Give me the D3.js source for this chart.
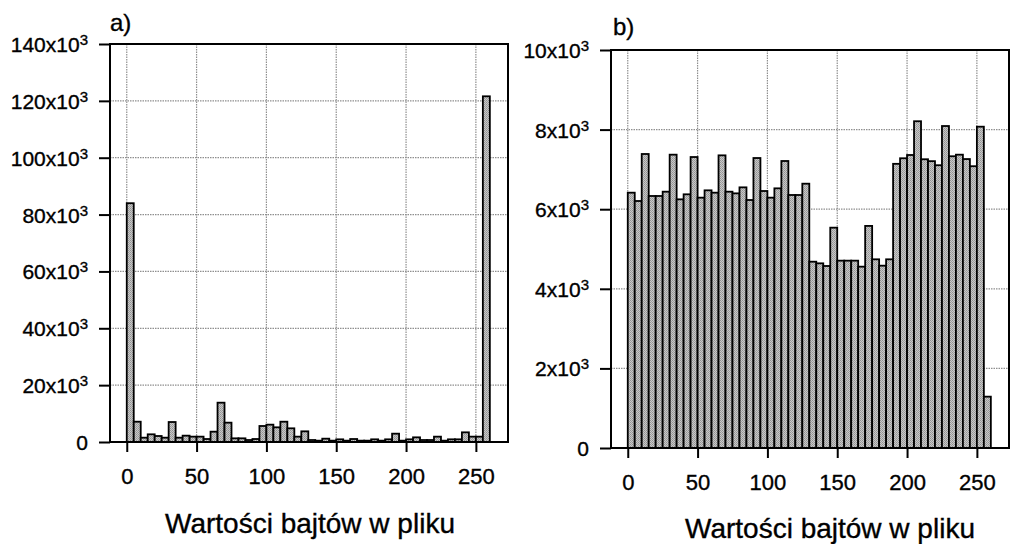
<!DOCTYPE html>
<html>
<head>
<meta charset="utf-8">
<script src="https://cdn.jsdelivr.net/npm/d3@7"></script>
<style>
  body { margin: 0; background: #fff; }
  svg { display: block; font-family: "Liberation Sans", Arial, sans-serif; }
  svg text { stroke: #000; stroke-width: 0.35px; }
</style>
</head>
<body>
<div id="chart"></div>
<script>
// histogram bins: 0..260 step 5
const binWidth = 5;
const binStarts = d3.range(0, 260, binWidth);

// a) counts per bin
const countsA = [
  84000, 7140, 1520, 2700, 2110, 1520, 7030, 1520, 2230, 1880,
  1880, 1050, 3630, 13830, 6800, 1290, 1290, 700, 1050, 5630,
  6100, 5160, 7140, 4810, 1880, 3750, 700, 470, 1170, 470,
  940, 470, 1050, 470, 470, 940, 470, 940, 2930, 470,
  940, 1640, 700, 700, 1880, 470, 940, 940, 3400, 1880,
  1880, 121600
];

// b) counts per bin
const countsB = [
  6415, 6206, 7387, 6332, 6332, 6440, 7370, 6248, 6374, 7311,
  6290, 6474, 6415, 7353, 6440, 6398, 6549, 6231, 7286, 6457,
  6290, 6524, 7211, 6357, 6357, 6641, 4681, 4640, 4573, 5536,
  4707, 4707, 4707, 4556, 5580, 4741, 4581, 4741, 7140, 7280,
  7362, 8210, 7255, 7207, 7105, 8090, 7330, 7370, 7260, 7080,
  8073, 1290
];

const xTicks = [0, 50, 100, 150, 200, 250];
const yTicksA = [0, 20000, 40000, 60000, 80000, 100000, 120000, 140000];
const yTicksB = [0, 2000, 4000, 6000, 8000, 10000];
const xTitle = "Wartości bajtów w pliku";

const svg = d3.select("#chart")
  .append("svg")
  .attr("width", 1010)
  .attr("height", 544);

// stippled grey fill of the bars
const pat = svg.append("defs").append("pattern")
  .attr("id", "stipple")
  .attr("width", 2).attr("height", 2)
  .attr("patternUnits", "userSpaceOnUse");
pat.append("rect").attr("width", 2).attr("height", 2).attr("fill", "#c8c8c8");
pat.append("rect").attr("x", 0).attr("y", 0).attr("width", 1).attr("height", 1).attr("fill", "#939393");
pat.append("rect").attr("x", 1).attr("y", 1).attr("width", 1).attr("height", 1).attr("fill", "#a0a0a0");

function yLabel(sel, d) {
  // "NNx10³" style labels, 0 stays plain
  sel.text(null);
  if (d === 0) { sel.text("0"); return; }
  sel.append("tspan").text(`${d / 1000}x10`);
  sel.append("tspan").attr("dy", -7).attr("font-size", 15).text("3");
}

function drawPanel(p) {
  const x = d3.scaleLinear().domain([-12, 273]).range([p.left, p.left + p.size]);
  const y = d3.scaleLinear().domain([0, p.yMax]).range([p.top + p.size, p.top]);
  const bottom = p.top + p.size;
  const right = p.left + p.size;
  const data = binStarts.map((s, i) => ({ x0: s, x1: s + binWidth, v: p.counts[i] }));

  const g = svg.append("g");

  // dotted grid
  g.append("g").selectAll("line.gx")
    .data(xTicks)
    .join("line")
    .attr("x1", d => x(d)).attr("x2", d => x(d))
    .attr("y1", p.top).attr("y2", bottom)
    .attr("stroke", "#8f8f8f").attr("stroke-width", 1.2)
    .attr("stroke-dasharray", "1.5,1");

  g.append("g").selectAll("line.gy")
    .data(p.yTicks.filter(d => d > 0 && d < p.yMax))
    .join("line")
    .attr("x1", p.left).attr("x2", right)
    .attr("y1", d => y(d)).attr("y2", d => y(d))
    .attr("stroke", "#8f8f8f").attr("stroke-width", 1.2)
    .attr("stroke-dasharray", "1.5,1");

  // bars
  g.append("g").selectAll("rect")
    .data(data)
    .join("rect")
    .attr("x", d => x(d.x0))
    .attr("y", d => y(d.v))
    .attr("width", d => x(d.x1) - x(d.x0))
    .attr("height", d => bottom - y(d.v))
    .attr("fill", "url(#stipple)")
    .attr("stroke", "#000")
    .attr("stroke-width", 1.8);

  // frame
  g.append("rect")
    .attr("x", p.left).attr("y", p.top)
    .attr("width", p.size).attr("height", p.size)
    .attr("fill", "none")
    .attr("stroke", "#000")
    .attr("stroke-width", 2);

  // axes
  const xAxis = g.append("g")
    .attr("transform", `translate(0,${bottom})`)
    .call(d3.axisBottom(x).tickValues(xTicks).tickSize(10).tickPadding(16).tickSizeOuter(0));
  xAxis.select(".domain").remove();
  xAxis.selectAll("line").attr("stroke-width", 2);
  xAxis.selectAll("text")
    .attr("font-size", 22)
    .attr("font-family", "Liberation Sans, Arial, sans-serif")
    .attr("fill", "#000");

  const yAxis = g.append("g")
    .attr("transform", `translate(${p.left},0)`)
    .call(d3.axisLeft(y).tickValues(p.yTicks).tickSize(11).tickPadding(11).tickSizeOuter(0));
  yAxis.select(".domain").remove();
  yAxis.selectAll("line").attr("stroke-width", 2);
  yAxis.selectAll("text")
    .attr("font-size", 21)
    .attr("font-family", "Liberation Sans, Arial, sans-serif")
    .attr("fill", "#000")
    .attr("dy", "0.36em")
    .each(function (d) { yLabel(d3.select(this), d); });

  // panel letter
  g.append("text")
    .attr("x", p.left + p.letterDx)
    .attr("y", p.letterY)
    .attr("font-size", 24)
    .text(p.letter);

  // axis title
  g.append("text")
    .attr("x", p.titleX)
    .attr("y", p.titleY)
    .attr("text-anchor", "middle")
    .attr("font-size", 28)
    .text(xTitle);
}

drawPanel({
  counts: countsA, yMax: 140000, yTicks: yTicksA,
  left: 110, top: 44, size: 398,
  letter: "a)", letterDx: 0, letterY: 31,
  titleX: 310, titleY: 533
});

drawPanel({
  counts: countsB, yMax: 10000, yTicks: yTicksB,
  left: 611, top: 50, size: 398,
  letter: "b)", letterDx: 2, letterY: 35,
  titleX: 830, titleY: 538
});
</script>
</body>
</html>
